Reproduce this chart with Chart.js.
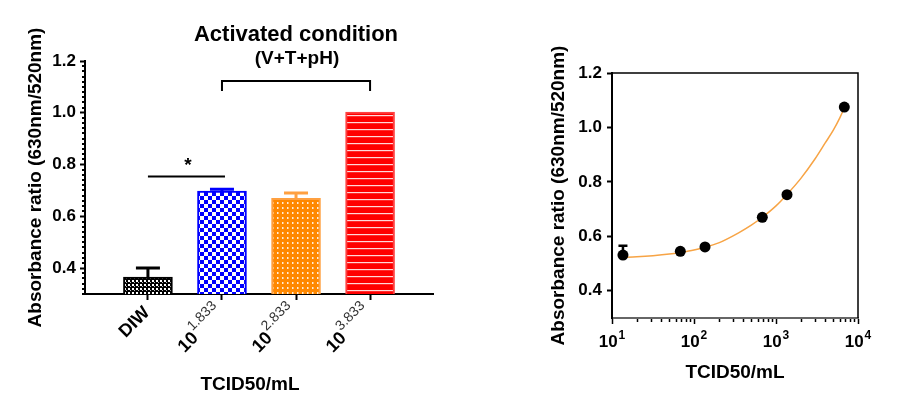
<!DOCTYPE html>
<html>
<head>
<meta charset="utf-8">
<script src="https://cdn.jsdelivr.net/npm/chart.js@4.4.1/dist/chart.umd.min.js"></script>
<style>
  body { margin: 0; background: #fff; }
  #wrap { position: relative; width: 899px; height: 413px; }
  .box { position: absolute; top: 0; height: 413px; }
</style>
</head>
<body>
<div id="wrap">
  <div class="box" style="left:0;width:450px"><canvas id="barChart"></canvas></div>
  <div class="box" style="left:450px;width:449px"><canvas id="curveChart"></canvas></div>
</div>
<script>
// left panel: bars
const barBases = ['DIW', '10', '10', '10'];
const barExponents = ['', '1.833', '2.833', '3.833'];
const barMeans = [0.365, 0.698, 0.670, 1.003];
const barErrors = [0.035, 0.007, 0.020, 0.0];
const yTicks = [0.4, 0.6, 0.8, 1.0, 1.2];

// right panel: dose response
const doseX = [13.6, 68.1, 136.2, 680.8, 1362, 6808];
const doseY = [0.531, 0.545, 0.561, 0.670, 0.753, 1.075];
const doseErr = [0.034, 0, 0, 0, 0, 0];
const fitX = [13.6, 20, 31.6, 50, 68.1, 100, 136.2, 200, 350, 500, 680.8, 1000, 1362, 2000, 3000, 4000, 5000, 6000, 6808];
const fitY = [0.523, 0.525, 0.529, 0.535, 0.541, 0.550, 0.560, 0.576, 0.613, 0.641, 0.670, 0.712, 0.754, 0.812, 0.885, 0.944, 0.990, 1.035, 1.072];
const logTicks = [10, 100, 1000, 10000];
const logTickExponents = ['1', '2', '3', '4'];

const FONT = "'Liberation Sans', Arial, sans-serif";
Chart.defaults.font.family = FONT;
Chart.defaults.color = '#000';

function makePattern(w, h, bg, draw) {
  const c = document.createElement('canvas');
  c.width = w; c.height = h;
  const g = c.getContext('2d');
  g.fillStyle = bg;
  g.fillRect(0, 0, w, h);
  draw(g);
  return g.createPattern(c, 'repeat');
}

const patDIW = makePattern(4, 4, '#000', g => { g.fillStyle = '#fff'; g.fillRect(0, 0, 2, 2); g.fillStyle = '#bbb'; g.fillRect(2, 2, 1, 1); });
const patBlue = makePattern(8, 8, '#0000ff', g => { g.fillStyle = '#fff'; g.fillRect(0, 0, 4, 4); g.fillRect(4, 4, 4, 4); });
const patOrange = makePattern(5, 5, '#ff8800', g => { g.fillStyle = 'rgba(255,255,255,0.85)'; g.fillRect(2, 2, 1.5, 2); });
const patRed = makePattern(7, 7, '#ff0000', g => { g.fillStyle = 'rgba(255,255,255,0.85)'; g.fillRect(0, 3, 7, 1.2); });

const barColors = ['#000', '#0000ff', '#ffa040', '#ff4040'];

const barExtras = {
  id: 'barExtras',
  afterDatasetsDraw(chart) {
    const ctx = chart.ctx, y = chart.scales.y;
    const meta = chart.getDatasetMeta(0);
    ctx.save();
    meta.data.forEach((bar, i) => {
      if (!barErrors[i]) return;
      const top = y.getPixelForValue(barMeans[i]);
      const cap = y.getPixelForValue(barMeans[i] + barErrors[i]);
      ctx.strokeStyle = barColors[i];
      ctx.lineWidth = 3;
      ctx.beginPath();
      ctx.moveTo(bar.x, top); ctx.lineTo(bar.x, cap);
      ctx.moveTo(bar.x - 12, cap); ctx.lineTo(bar.x + 12, cap);
      ctx.stroke();
    });
    ctx.restore();
  },
  afterDraw(chart) {
    const ctx = chart.ctx, x = chart.scales.x, y = chart.scales.y;
    const axisX = chart.chartArea.left;
    ctx.save();
    // minor ticks on y axis
    ctx.strokeStyle = '#000';
    ctx.lineWidth = 2;
    for (let k = 15; k <= 60; k++) {
      if (k % 10 === 0) continue;
      const py = Math.round(y.getPixelForValue(k / 50));
      ctx.beginPath();
      ctx.moveTo(axisX - 3, py); ctx.lineTo(axisX, py);
      ctx.stroke();
    }
    // rotated category labels
    ctx.fillStyle = '#000';
    ctx.textBaseline = 'middle';
    barBases.forEach((base, i) => {
      const px = x.getPixelForValue(i);
      ctx.save();
      ctx.translate(px - 1, 310);
      ctx.rotate(-Math.PI / 4);
      ctx.font = 'bold 18px ' + FONT;
      const wb = ctx.measureText(base).width;
      ctx.font = '14px ' + FONT;
      const we = barExponents[i] ? ctx.measureText(barExponents[i]).width + 1 : 0;
      ctx.textAlign = 'left';
      ctx.font = 'bold 18px ' + FONT;
      ctx.fillText(base, -wb - we, 0);
      if (barExponents[i]) {
        ctx.font = '14px ' + FONT;
        ctx.fillStyle = '#333';
        ctx.fillText(barExponents[i], -we + 1, -9);
      }
      ctx.restore();
    });
    // x title
    ctx.font = 'bold 19px ' + FONT;
    ctx.textAlign = 'center';
    ctx.fillText('TCID50/mL', 250, 385);
    // headings
    ctx.font = 'bold 22px ' + FONT;
    ctx.fillText('Activated condition', 296, 35);
    ctx.font = 'bold 19px ' + FONT;
    ctx.fillText('(V+T+pH)', 297, 59);
    // significance marks
    const x0 = x.getPixelForValue(0), x1 = x.getPixelForValue(1), x3 = x.getPixelForValue(3);
    ctx.lineWidth = 2;
    ctx.beginPath();
    ctx.moveTo(x0, 176.5); ctx.lineTo(x1 + 3, 176.5);
    ctx.moveTo(x1, 91); ctx.lineTo(x1, 81); ctx.lineTo(x3, 81); ctx.lineTo(x3, 91);
    ctx.stroke();
    ctx.font = 'bold 19px ' + FONT;
    ctx.fillText('*', (x0 + x1) / 2 + 3, 166);
    ctx.restore();
  }
};

new Chart(document.getElementById('barChart'), {
  type: 'bar',
  data: {
    datasets: [{
      data: barMeans.map((v, i) => ({ x: i, y: v })),
      backgroundColor: [patDIW, patBlue, patOrange, patRed],
      borderColor: barColors,
      borderWidth: 2,
      barThickness: 49
    }]
  },
  options: {
    responsive: true,
    maintainAspectRatio: false,
    animation: false,
    layout: { padding: { left: 24, top: 61, right: 17, bottom: 0 } },
    plugins: { legend: { display: false }, tooltip: { enabled: false } },
    scales: {
      x: {
        type: 'linear', min: -0.85, max: 3.85, offset: false,
        afterBuildTicks: s => { s.ticks = barMeans.map((_, i) => ({ value: i })); },
        afterFit: s => { s.height = 119; },
        border: { color: '#000', width: 2 },
        grid: { drawOnChartArea: false, offset: false, tickLength: 6, tickColor: '#000', tickWidth: 2 },
        ticks: { display: false }
      },
      y: {
        min: 0.3, max: 1.2,
        afterBuildTicks: s => { s.ticks = yTicks.map(v => ({ value: v })); },
        afterFit: s => { s.width = 61; },
        border: { color: '#000', width: 2 },
        grid: { drawOnChartArea: false, tickLength: 5, tickColor: '#000', tickWidth: 2 },
        ticks: { callback: v => v.toFixed(1), font: { size: 17, weight: 'bold' }, color: '#000', padding: 4 },
        title: { display: true, text: 'Absorbance ratio (630nm/520nm)', font: { size: 19, weight: 'bold' }, color: '#000', padding: 0 }
      }
    }
  },
  plugins: [barExtras]
});

const curveExtras = {
  id: 'curveExtras',
  beforeDatasetsDraw(chart) {
    const ctx = chart.ctx, x = chart.scales.x, y = chart.scales.y;
    ctx.save();
    ctx.strokeStyle = '#000';
    ctx.lineWidth = 2.5;
    doseX.forEach((v, i) => {
      if (!doseErr[i]) return;
      const px = x.getPixelForValue(v);
      const p0 = y.getPixelForValue(doseY[i]);
      const p1 = y.getPixelForValue(doseY[i] + doseErr[i]);
      ctx.beginPath();
      ctx.moveTo(px, p0); ctx.lineTo(px, p1);
      ctx.moveTo(px - 4.5, p1); ctx.lineTo(px + 4.5, p1);
      ctx.stroke();
    });
    ctx.restore();
  },
  afterDraw(chart) {
    const ctx = chart.ctx, x = chart.scales.x;
    const a = chart.chartArea;
    ctx.save();
    ctx.strokeStyle = '#000';
    ctx.lineWidth = 1.5;
    ctx.beginPath();
    ctx.moveTo(a.left, a.top); ctx.lineTo(a.right, a.top); ctx.lineTo(a.right, a.bottom);
    ctx.stroke();
    // log minor ticks
    for (let d = 10; d < 10000; d *= 10) {
      for (let m = 2; m <= 9; m++) {
        const px = Math.round(x.getPixelForValue(d * m)) + 0.5;
        ctx.beginPath();
        ctx.moveTo(px, a.bottom + 1); ctx.lineTo(px, a.bottom + 4);
        ctx.stroke();
      }
    }
    // decade labels with superscripts
    ctx.fillStyle = '#000';
    ctx.textBaseline = 'middle';
    ctx.textAlign = 'left';
    logTicks.forEach((v, i) => {
      const px = x.getPixelForValue(v);
      ctx.font = 'bold 17px ' + FONT;
      const wb = ctx.measureText('10').width;
      ctx.font = 'bold 12px ' + FONT;
      const we = ctx.measureText(logTickExponents[i]).width + 1;
      const left = px - (wb + we) / 2;
      ctx.font = 'bold 17px ' + FONT;
      ctx.fillText('10', left, 342);
      ctx.font = 'bold 12px ' + FONT;
      ctx.fillText(logTickExponents[i], left + wb + 1, 336);
    });
    ctx.restore();
  }
};

new Chart(document.getElementById('curveChart'), {
  type: 'line',
  data: {
    datasets: [
      {
        data: doseX.map((v, i) => ({ x: v, y: doseY[i] })),
        showLine: false,
        pointRadius: 5.5,
        pointBackgroundColor: '#000',
        pointBorderColor: '#000',
        pointBorderWidth: 0
      },
      {
        data: fitX.map((v, i) => ({ x: v, y: fitY[i] })),
        borderColor: '#f7a445',
        borderWidth: 1.5,
        pointRadius: 0,
        cubicInterpolationMode: 'monotone'
      }
    ]
  },
  options: {
    responsive: true,
    maintainAspectRatio: false,
    animation: false,
    layout: { padding: { left: 97, top: 73, right: 41, bottom: 0 } },
    plugins: { legend: { display: false }, tooltip: { enabled: false } },
    scales: {
      x: {
        type: 'logarithmic', min: 10, max: 10000,
        afterBuildTicks: s => { s.ticks = logTicks.map(v => ({ value: v })); },
        afterFit: s => { s.height = 95; },
        border: { color: '#666', width: 2 },
        grid: { drawOnChartArea: false, tickLength: 6, tickColor: '#000', tickWidth: 1.5 },
        ticks: { display: false },
        title: { display: true, text: 'TCID50/mL', font: { size: 19, weight: 'bold' }, color: '#000', padding: { top: 0, bottom: 29 } }
      },
      y: {
        min: 0.3, max: 1.2,
        afterBuildTicks: s => { s.ticks = yTicks.map(v => ({ value: v })); },
        afterFit: s => { s.width = 65; },
        border: { color: '#000', width: 2 },
        grid: { drawOnChartArea: false, tickLength: 5, tickColor: '#000', tickWidth: 2 },
        ticks: { callback: v => v.toFixed(1), font: { size: 17, weight: 'bold' }, color: '#000', padding: 5 },
        title: { display: true, text: 'Absorbance ratio (630nm/520nm)', font: { size: 19, weight: 'bold' }, color: '#000', padding: 0 }
      }
    }
  },
  plugins: [curveExtras]
});
</script>
</body>
</html>
